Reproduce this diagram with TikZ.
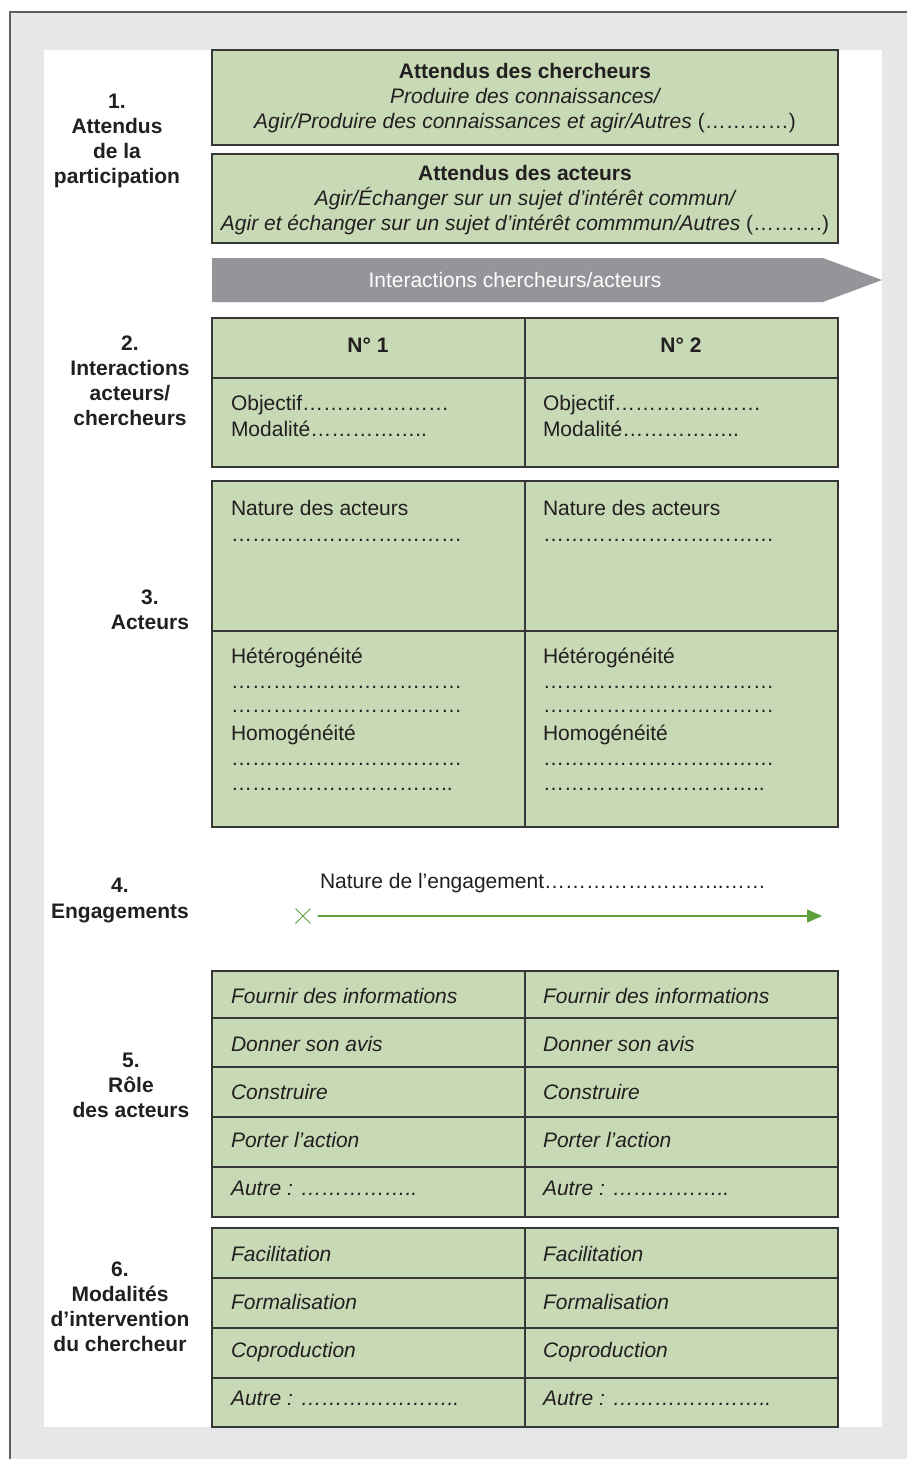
\documentclass[tikz,border=0pt]{standalone}
\usepackage{fontspec}
\setmainfont{Liberation Sans}
\usetikzlibrary{arrows.meta,shapes.misc}
\definecolor{bggray}{RGB}{230,231,232}
\definecolor{framec}{RGB}{95,95,97}
\definecolor{cellgreen}{RGB}{200,217,181}
\definecolor{linegray}{RGB}{55,55,55}
\definecolor{arrowgray}{RGB}{147,149,152}
\definecolor{arrowgreen}{RGB}{92,160,62}
\definecolor{txt}{RGB}{35,31,32}
\newcount\mydotc
\newcommand{\elln}[1]{\mydotc=0 \loop\ifnum\mydotc<#1 …\advance\mydotc by 1 \repeat}
\begin{document}
\begin{tikzpicture}[x=1pt,y=-1pt,
  every node/.style={font=\fontsize{21}{25}\selectfont, text=txt, inner sep=0pt, outer sep=0pt},
  cellbox/.style={draw=linegray, fill=cellgreen, line width=1.4pt, anchor=north west, inner sep=0pt},
  lbl/.style={font=\bfseries\fontsize{21}{25}\selectfont, anchor=base},
  ct/.style={anchor=base west},
  ctc/.style={anchor=base},
  cti/.style={anchor=base west, font=\itshape\fontsize{21}{25}\selectfont},
  ctb/.style={anchor=base, font=\bfseries\fontsize{21}{25}\selectfont}]
\useasboundingbox (0,0) rectangle (907,1459);
% background and frame
\fill[bggray] (10,12) rectangle (907,1459);
\draw[framec, line width=1.3pt] (10,1459) -- (10,12) -- (907,12);
\fill[white] (44,50) rectangle (882,1427);

% ---------- left labels ----------
\foreach \t/\y [count=\i] in {1./108, Attendus/133, de la/158, participation/183}
  \node[lbl] (labA\i) at (117,\y) {\t};
\foreach \t/\y [count=\i] in {2./350, Interactions/375, {acteurs/}/400, chercheurs/425}
  \node[lbl] (labB\i) at (130,\y) {\t};
\foreach \t/\y [count=\i] in {3./604, Acteurs/629}
  \node[lbl] (labC\i) at (150,\y) {\t};
\foreach \t/\y [count=\i] in {4./892, Engagements/918}
  \node[lbl] (labD\i) at (120,\y) {\t};
\foreach \t/\y [count=\i] in {5./1067, Rôle/1092, des acteurs/1117}
  \node[lbl] (labE\i) at (131,\y) {\t};
\foreach \t/\y [count=\i] in {6./1276, Modalités/1301, d’intervention/1326, du chercheur/1351}
  \node[lbl] (labF\i) at (120,\y) {\t};

% ---------- section 1 ----------
\node[cellbox, minimum width=626pt, minimum height=95pt] (att1) at (212,50) {};
\node[ctb] (att1a) at (525,78) {Attendus des chercheurs};
\node[ctc] (att1b) at (525,103) {\itshape Produire des connaissances/};
\node[ctc] (att1c) at (525,128) {{\itshape Agir/Produire des connaissances et agir/Autres} (\elln{4})};

\node[cellbox, minimum width=626pt, minimum height=89pt] (att2) at (212,154) {};
\node[ctb] (att2a) at (525,180) {Attendus des acteurs};
\node[ctc] (att2b) at (525,205) {\itshape Agir/Échanger sur un sujet d’intérêt commun/};
\node[ctc] (att2c) at (525,230) {{\itshape Agir et échanger sur un sujet d'intérêt commmun/Autres} (\elln{3}.)};

% ---------- grey arrow ----------
\fill[arrowgray] (212,258) -- (823,258) -- (882,280) -- (823,302) -- (212,302) -- cycle;
\node[ctc, text=white] (inter) at (515,287) {Interactions chercheurs/acteurs};

% ---------- tables (cells) ----------
\foreach \c/\x in {a/212, b/525} {
  \node[cellbox, minimum width=313pt, minimum height=60pt] (num\c) at (\x,318) {};
  \node[cellbox, minimum width=313pt, minimum height=89pt] (obj\c) at (\x,378) {};
  \node[cellbox, minimum width=313pt, minimum height=150pt] (nat\c) at (\x,481) {};
  \node[cellbox, minimum width=313pt, minimum height=196pt] (het\c) at (\x,631) {};
  \foreach \y/\h [count=\i] in {971/47, 1018/49, 1067/50, 1117/50, 1167/50}
    \node[cellbox, minimum width=313pt, minimum height=\h pt] (role\c\i) at (\x,\y) {};
  \foreach \y/\h [count=\i] in {1228/50, 1278/50, 1328/50, 1378/49}
    \node[cellbox, minimum width=313pt, minimum height=\h pt] (mod\c\i) at (\x,\y) {};
}

% ---------- table texts ----------
\node[ctb] (numta) at (368,352) {N° 1};
\node[ctb] (numtb) at (681,352) {N° 2};
\foreach \c/\x in {a/231, b/543} {
  \node[ct] (objt\c) at (\x,410) {Objectif\elln{7}};
  \node[ct] (modt\c) at (\x,436) {Modalité\elln{5}..};
  \node[ct] (natt\c) at (\x,515) {Nature des acteurs};
  \node[ct] (natd\c) at (\x,541) {\elln{11}};
  \node[ct] (hett\c) at (\x,663) {Hétérogénéité};
  \node[ct] (hetd\c) at (\x,688) {\elln{11}};
  \node[ct] (hete\c) at (\x,712) {\elln{11}};
  \node[ct] (homt\c) at (\x,740) {Homogénéité};
  \node[ct] (homd\c) at (\x,765) {\elln{11}};
  \node[ct] (home\c) at (\x,790) {\elln{10}..};
  \node[cti] (rolt\c1) at (\x,1003) {Fournir des informations};
  \node[cti] (rolt\c2) at (\x,1051) {Donner son avis};
  \node[cti] (rolt\c3) at (\x,1099) {Construire};
  \node[cti] (rolt\c4) at (\x,1147) {Porter l’action};
  \node[cti] (rolt\c5) at (\x,1195) {Autre : \elln{5}..};
  \node[cti] (modt\c1) at (\x,1261) {Facilitation};
  \node[cti] (modt\c2) at (\x,1309) {Formalisation};
  \node[cti] (modt\c3) at (\x,1357) {Coproduction};
  \node[cti] (modt\c4) at (\x,1405) {Autre : \elln{7}..};
}

% ---------- engagement ----------
\node[ct] (engt) at (320,888) {Nature de l’engagement\elln{8}..\elln{2}};
\node[cross out, draw=arrowgreen, line width=1pt, minimum size=15pt] (engx) at (303,916) {};
\coordinate (enge) at (822,916);
\draw[arrowgreen, line width=1.5pt, shorten <=7pt, -{Triangle[length=15pt,width=13pt]}] (engx.east) -- (enge);
\end{tikzpicture}
\end{document}
